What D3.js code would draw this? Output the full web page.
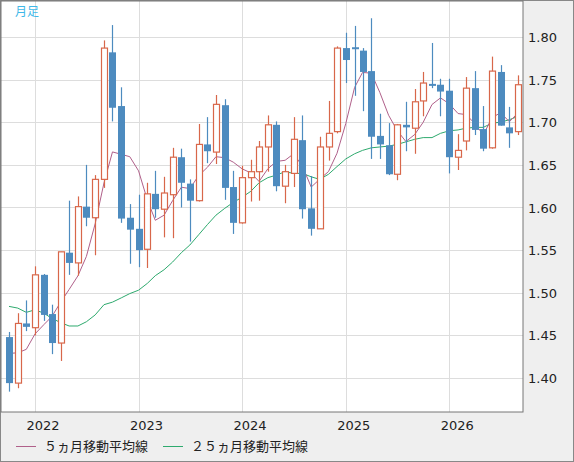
<!DOCTYPE html>
<html><head><meta charset="utf-8">
<script src="https://cdn.jsdelivr.net/npm/d3@7"></script>
<style>body{margin:0;background:#fff}svg{display:block;font-family:"DejaVu Sans",sans-serif}</style>
</head><body><svg id="c" width="574" height="462"></svg>
<script>
const months = d3.range(60).map(i => new Date(2021, 9 + i, 1));
const open  = [1.448,1.394,1.464,1.459,1.521,1.475,1.441,1.547,1.535,1.601,1.588,1.633,1.782,1.719,1.588,1.575,1.551,1.616,1.598,1.615,1.659,1.628,1.608,1.674,1.665,1.720,1.624,1.582,1.635,1.642,1.671,1.697,1.625,1.640,1.679,1.599,1.575,1.671,1.689,1.787,1.788,1.784,1.760,1.684,1.673,1.639,1.697,1.693,1.725,1.745,1.744,1.737,1.659,1.678,1.740,1.692,1.670,1.759,1.694,1.689];
const close = [1.394,1.464,1.460,1.521,1.474,1.441,1.548,1.535,1.601,1.588,1.633,1.787,1.717,1.587,1.574,1.550,1.616,1.598,1.617,1.659,1.629,1.608,1.674,1.666,1.721,1.623,1.582,1.635,1.642,1.671,1.697,1.625,1.642,1.680,1.598,1.575,1.671,1.687,1.787,1.773,1.786,1.759,1.683,1.674,1.639,1.697,1.694,1.724,1.746,1.743,1.736,1.659,1.667,1.740,1.691,1.669,1.760,1.696,1.687,1.744];
const high  = [1.454,1.476,1.491,1.531,1.522,1.486,1.548,1.608,1.613,1.650,1.638,1.796,1.814,1.741,1.604,1.615,1.629,1.643,1.636,1.670,1.669,1.633,1.698,1.706,1.732,1.727,1.643,1.649,1.656,1.678,1.708,1.701,1.650,1.706,1.708,1.637,1.683,1.725,1.789,1.805,1.813,1.787,1.822,1.710,1.699,1.698,1.724,1.739,1.759,1.793,1.751,1.751,1.686,1.753,1.760,1.719,1.777,1.767,1.718,1.755];
const low   = [1.384,1.388,1.455,1.450,1.467,1.428,1.420,1.521,1.520,1.578,1.544,1.623,1.701,1.582,1.534,1.530,1.529,1.588,1.565,1.564,1.600,1.560,1.607,1.652,1.651,1.609,1.569,1.581,1.607,1.608,1.642,1.619,1.605,1.624,1.587,1.567,1.575,1.655,1.687,1.746,1.731,1.713,1.657,1.657,1.638,1.632,1.666,1.663,1.707,1.740,1.707,1.640,1.644,1.667,1.685,1.666,1.669,1.696,1.670,1.685];
const priorClose = [1.46,1.44,1.43,1.42];
const ma25 = [1.484,1.482,1.477,1.480,1.476,1.470,1.465,1.461,1.461,1.466,1.474,1.486,1.489,1.494,1.499,1.503,1.511,1.520,1.527,1.536,1.547,1.556,1.568,1.580,1.591,1.599,1.606,1.612,1.619,1.629,1.635,1.638,1.642,1.640,1.640,1.636,1.633,1.639,1.648,1.657,1.663,1.667,1.670,1.671,1.672,1.674,1.677,1.680,1.682,1.682,1.687,1.690,1.691,1.693,1.694,1.694,1.699,1.700,1.703,1.707];
const yTicks = [1.40,1.45,1.50,1.55,1.60,1.65,1.70,1.75,1.80];
const yearTicks = [2022,2023,2024,2025,2026];
const legendLabels = ["５ヵ月移動平均線","２５ヵ月移動平均線"];

const allClose = priorClose.concat(close);
const ma5 = close.map((c,i) => d3.mean(allClose.slice(i, i+5)));

const svg = d3.select("#c");
const L=1, R=523, T=1, B=412;
svg.append("rect").attr("x",0.5).attr("y",0.5).attr("width",573).attr("height",461).attr("fill","#efefef").attr("stroke","#888");
svg.append("rect").attr("x",L).attr("y",T).attr("width",R-L).attr("height",B-T).attr("fill","#fff");

const step = 8.63;
const x = d3.scaleTime().domain([new Date(2021,9,1), new Date(2026,8,1)]).range([9, 9+59*step]);
const y = d3.scaleLinear().domain([1.40,1.80]).range([378,37]);
const g = svg.append("g");
yTicks.forEach(t => g.append("line").attr("x1",L).attr("x2",R).attr("y1",Math.round(y(t))+0.5).attr("y2",Math.round(y(t))+0.5).attr("stroke","#ddd"));
yearTicks.forEach(t => g.append("line").attr("x1",Math.round(x(new Date(t,0,1)))+0.5).attr("x2",Math.round(x(new Date(t,0,1)))+0.5).attr("y1",T).attr("y2",B).attr("stroke","#ddd"));

const lineGen = d3.line().x((d,i)=>x(months[i])).y(d=>y(d));
g.append("path").datum(ma25).attr("d",lineGen).attr("fill","none").attr("stroke","#2eaa6e").attr("stroke-width",1);
g.append("path").datum(ma5).attr("d",lineGen).attr("fill","none").attr("stroke","#b0608a").attr("stroke-width",1);

const RED="#d8674a", BLUE="#4d8bbf";
months.forEach((m,i)=>{
  const up = close[i] >= open[i];
  const cx = Math.round(x(m)) + 0.5;
  const col = up ? RED : BLUE;
  const top = y(Math.max(open[i],close[i])), bot = y(Math.min(open[i],close[i]));
  g.append("line").attr("x1",cx).attr("x2",cx).attr("y1",y(high[i])).attr("y2",y(low[i])).attr("stroke",col).attr("stroke-width",1.2);
  if (up) {
    g.append("rect").attr("x",cx-3).attr("y",top).attr("width",6).attr("height",Math.max(1,bot-top)).attr("fill","#fff").attr("stroke",col).attr("stroke-width",1.2);
  } else {
    g.append("rect").attr("x",cx-3.5).attr("y",top).attr("width",7).attr("height",Math.max(2,bot-top)).attr("fill",col);
  }
});

svg.append("rect").attr("x",L).attr("y",T).attr("width",R-L).attr("height",B-T).attr("fill","none").attr("stroke","#777");

svg.append("text").attr("x",15).attr("y",16).attr("fill","#3fb8e8").attr("font-size",12).attr("font-family","Noto Sans CJK JP").text("月足");

yTicks.forEach(t => svg.append("text").attr("x",528).attr("y",y(t)+5).attr("font-size",13).attr("fill","#222").text(t.toFixed(2)));
yearTicks.forEach(t => svg.append("text").attr("x",x(new Date(t,0,1))+8).attr("y",430).attr("text-anchor","middle").attr("font-size",13).attr("fill","#222").text(t));

const lc = ["#b0608a","#2eaa6e"], lx=[16,163];
legendLabels.forEach((s,i)=>{
  svg.append("line").attr("x1",lx[i]).attr("x2",lx[i]+20).attr("y1",446.5).attr("y2",446.5).attr("stroke",lc[i]);
  svg.append("text").attr("x",lx[i]+28).attr("y",451).attr("font-size",13).attr("font-family","Noto Sans CJK JP").attr("fill","#222").text(s);
});
</script></body></html>
